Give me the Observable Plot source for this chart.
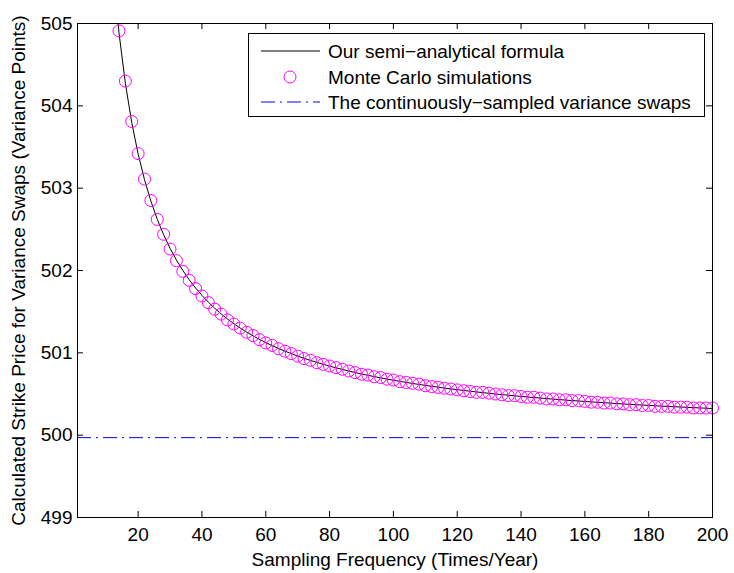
<!DOCTYPE html>
<html><head><meta charset="utf-8">
<script src="https://cdn.jsdelivr.net/npm/d3@7"></script>
<script src="https://cdn.jsdelivr.net/npm/@observablehq/plot@0.6"></script>
<style>
body{margin:0;background:#fff;}
#wrap{position:relative;width:734px;height:573px;font-family:"Liberation Sans",Arial,Helvetica,sans-serif;}
#legend{position:absolute;left:248px;top:33px;}
</style>
</head><body><div id="wrap"></div>
<script>
// Sampling frequencies (times/year) of the Monte Carlo points
const frequency = [14,16,18,20,22,24,26,28,30,32,34,36,38,40,42,44,46,48,50,52,54,56,58,60,62,64,66,68,70,72,74,76,78,80,82,84,86,88,90,92,94,96,98,100,102,104,106,108,110,112,114,116,118,120,122,124,126,128,130,132,134,136,138,140,142,144,146,148,150,152,154,156,158,160,162,164,166,168,170,172,174,176,178,180,182,184,186,188,190,192,194,196,198,200];
// Monte Carlo simulated strike prices (variance points)
const monteCarlo = [504.91,504.30,503.81,503.42,503.11,502.85,502.62,502.44,502.26,502.12,501.99,501.88,501.78,501.69,501.61,501.53,501.47,501.40,501.35,501.30,501.25,501.21,501.16,501.12,501.09,501.05,501.02,500.99,500.96,500.93,500.91,500.88,500.86,500.84,500.82,500.80,500.78,500.76,500.74,500.73,500.71,500.70,500.68,500.67,500.65,500.64,500.63,500.62,500.60,500.59,500.58,500.57,500.56,500.55,500.54,500.53,500.52,500.52,500.51,500.50,500.49,500.48,500.48,500.47,500.46,500.46,500.45,500.44,500.44,500.43,500.43,500.42,500.42,500.41,500.40,500.40,500.39,500.39,500.38,500.38,500.37,500.37,500.36,500.36,500.35,500.35,500.35,500.34,500.34,500.34,500.33,500.33,500.33,500.33];
// Semi-analytical formula curve
const formulaX = [12,14,16,18,20,22,24,26,28,30,32,34,36,38,40,42,44,46,48,50,52,54,56,58,60,62,64,66,68,70,72,74,76,78,80,82,84,86,88,90,92,94,96,98,100,102,104,106,108,110,112,114,116,118,120,122,124,126,128,130,132,134,136,138,140,142,144,146,148,150,152,154,156,158,160,162,164,166,168,170,172,174,176,178,180,182,184,186,188,190,192,194,196,198,200];
const formulaY = [505.705,504.887,504.274,503.797,503.415,503.103,502.843,502.622,502.434,502.270,502.127,502.001,501.888,501.788,501.698,501.616,501.541,501.473,501.411,501.354,501.301,501.252,501.207,501.164,501.125,501.088,501.053,501.021,500.990,500.961,500.934,500.908,500.884,500.861,500.839,500.818,500.798,500.779,500.761,500.743,500.727,500.711,500.696,500.681,500.667,500.654,500.641,500.628,500.616,500.605,500.593,500.583,500.572,500.562,500.553,500.543,500.534,500.525,500.517,500.508,500.500,500.493,500.485,500.478,500.471,500.464,500.457,500.451,500.444,500.438,500.432,500.426,500.420,500.415,500.409,500.404,500.399,500.394,500.389,500.384,500.379,500.375,500.370,500.366,500.362,500.357,500.353,500.349,500.345,500.342,500.338,500.334,500.331,500.327,500.324];
// Continuously-sampled variance swap strike
const continuousStrike = [499.97];
const xTicks = [20,40,60,80,100,120,140,160,180,200];
const yTicks = [499,500,501,502,503,504,505];
const seriesNames = ["Our semi\u2212analytical formula","Monte Carlo simulations","The continuously\u2212sampled variance swaps"];

const mcData = frequency.map((f,i)=>({x:f,y:monteCarlo[i]}));
const formulaData = formulaX.map((f,i)=>({x:f,y:formulaY[i]}));

const chart = Plot.plot({
  width: 734, height: 573,
  marginLeft: 77, marginRight: 22, marginTop: 23, marginBottom: 56,
  style: {fontFamily: "'Liberation Sans', Arial, Helvetica, sans-serif", fontSize: "19px", color: "#000", background: "#fff"},
  x: {domain: [1, 200]},
  y: {domain: [499, 505]},
  marks: [
    Plot.ruleY(continuousStrike, {y: d=>d, stroke: "#0000ff", strokeWidth: 1, strokeDasharray: "14,5,2,5"}),
    Plot.line(formulaData, {x: "x", y: "y", stroke: "#000", strokeWidth: 1, clip: true}),
    Plot.dot(mcData, {x: "x", y: "y", r: 6, stroke: "#ff00ff", fill: "none", strokeWidth: 1}),
    Plot.tickX(xTicks, {x: d=>d, insetTop: 488, stroke: "#000"}),
    Plot.tickX(xTicks, {x: d=>d, insetBottom: 488, stroke: "#000"}),
    Plot.tickY(yTicks, {y: d=>d, insetRight: 629, stroke: "#000"}),
    Plot.tickY(yTicks, {y: d=>d, insetLeft: 629, stroke: "#000"}),
    Plot.frame({stroke: "#000", strokeWidth: 1}),
    Plot.axisX({ticks: xTicks, tickFormat: d3.format("d"), tickSize: 0, tickPadding: 10, label: "Sampling Frequency (Times/Year)", labelAnchor: "center", labelArrow: "none", labelOffset: 48}),
    Plot.axisY({ticks: yTicks, tickFormat: d3.format("d"), tickSize: 0, tickPadding: 5, label: "Calculated Strike Price for Variance Swaps (Variance Points)", labelAnchor: "center", labelArrow: "none", labelOffset: 66})
  ]
});
const wrap = document.getElementById("wrap");
wrap.appendChild(chart);

// Legend (HTML overlay with SVG swatches)
const legend = d3.select(wrap).append("svg").attr("id","legend").attr("width",458).attr("height",85);
legend.append("rect").attr("x",0.5).attr("y",0.5).attr("width",456).attr("height",83).attr("fill","#fff").attr("stroke","#000");
const rows = [18, 44, 69];
legend.append("line").attr("x1",13).attr("x2",72).attr("y1",rows[0]).attr("y2",rows[0]).attr("stroke","#000").attr("stroke-width",1);
legend.append("circle").attr("cx",42).attr("cy",rows[1]).attr("r",6).attr("fill","none").attr("stroke","#ff00ff");
legend.append("line").attr("x1",13).attr("x2",72).attr("y1",rows[2]).attr("y2",rows[2]).attr("stroke","#0000ff").attr("stroke-dasharray","14,5,2,5");
seriesNames.forEach((n,i)=>{
  legend.append("text").attr("x",80).attr("y",rows[i]).attr("dy","0.35em")
    .attr("font-family","'Liberation Sans', Arial, Helvetica, sans-serif").attr("font-size",19).attr("fill","#000").text(n);
});
</script>
</body></html>
